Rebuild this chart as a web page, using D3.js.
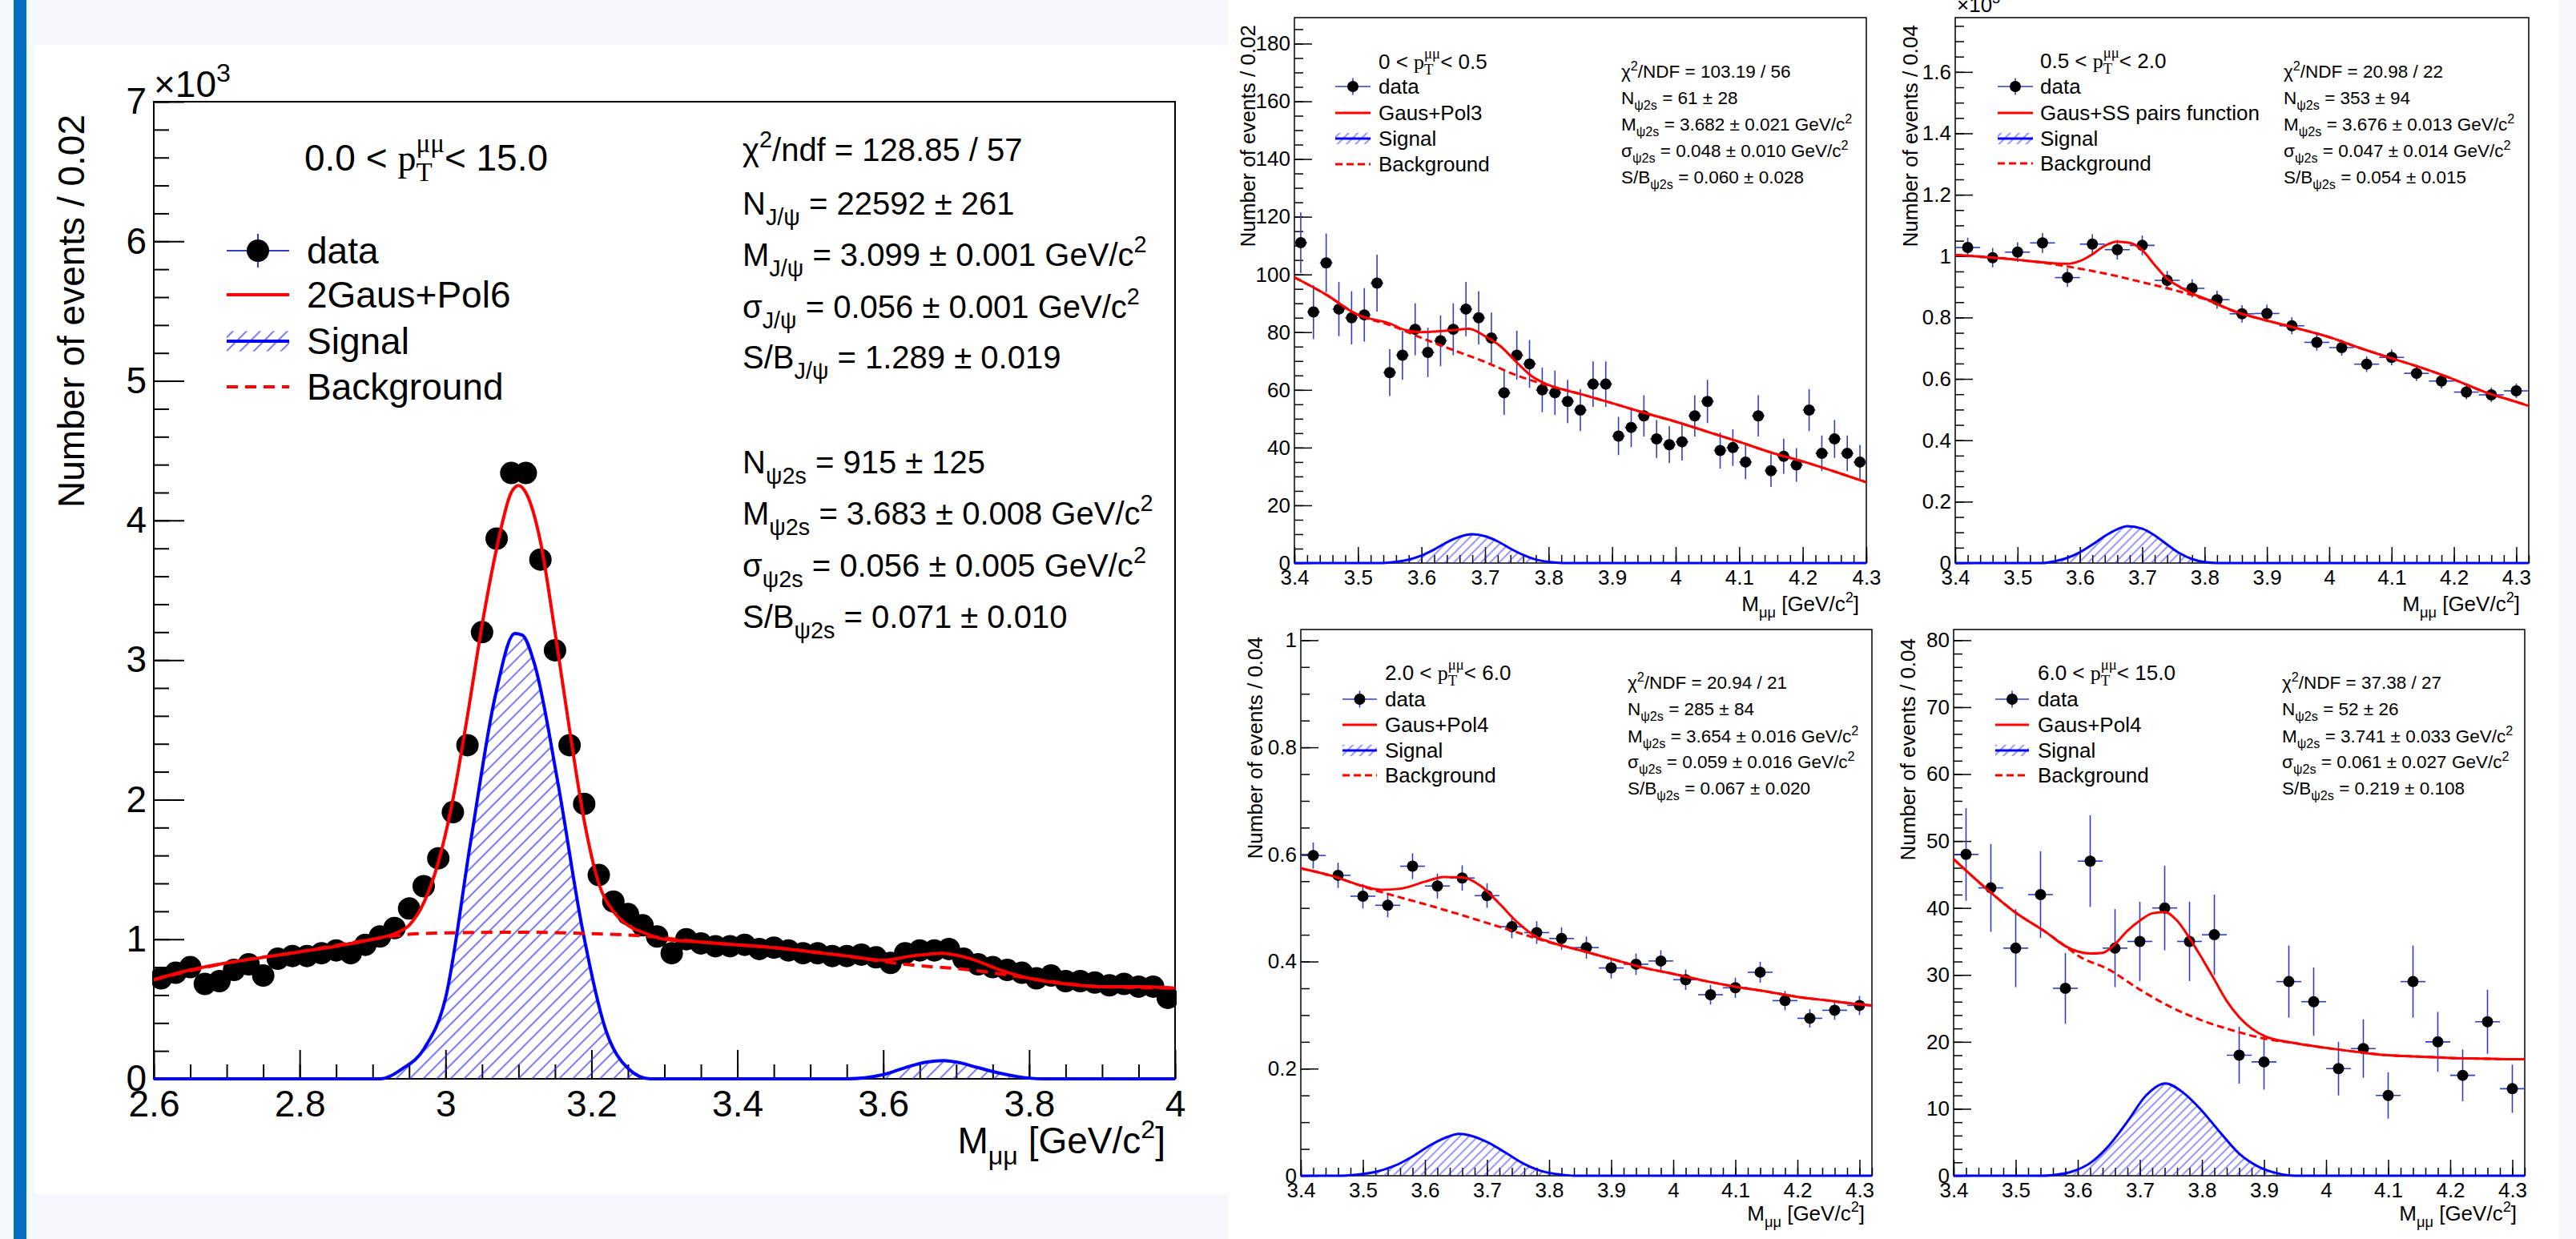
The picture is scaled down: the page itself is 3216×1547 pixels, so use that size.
<!DOCTYPE html>
<html><head><meta charset="utf-8">
<script src="https://cdn.jsdelivr.net/npm/d3@7"></script>
<style>body{margin:0;background:#f5f9fd;} svg{display:block}</style>
</head><body>
<svg id="c" width="3216" height="1547"></svg>
<script>
// ---------------- DATA ----------------
// Main plot: 0.0 < pT < 15.0, bins of 0.02 GeV/c2, counts in thousands
const mainBins = [2.61,2.63,2.65,2.67,2.69,2.71,2.73,2.75,2.77,2.79,2.81,2.83,2.85,2.87,2.89,2.91,2.93,2.95,2.97,2.99,
  3.01,3.03,3.05,3.07,3.09,3.11,3.13,3.15,3.17,3.19,3.21,3.23,3.25,3.27,3.29,3.31,3.33,3.35,3.37,3.39,
  3.41,3.43,3.45,3.47,3.49,3.51,3.53,3.55,3.57,3.59,3.61,3.63,3.65,3.67,3.69,3.71,3.73,3.75,3.77,3.79,
  3.81,3.83,3.85,3.87,3.89,3.91,3.93,3.95,3.97,3.99];
const mainCounts = [0.72,0.76,0.80,0.68,0.70,0.78,0.82,0.74,0.86,0.88,
  0.88,0.90,0.92,0.90,0.96,1.02,1.08,1.22,1.38,1.58,
  1.91,2.39,3.20,3.87,4.34,4.34,3.72,3.07,2.39,1.97,
  1.46,1.27,1.18,1.10,1.02,0.90,1.00,0.97,0.95,0.95,
  0.96,0.93,0.94,0.92,0.90,0.90,0.88,0.88,0.89,0.87,
  0.83,0.90,0.92,0.92,0.93,0.86,0.82,0.80,0.78,0.76,
  0.72,0.74,0.70,0.70,0.69,0.67,0.68,0.66,0.66,0.58];
const mainFitX = [2.60,2.65,2.70,2.75,2.80,2.85,2.90,2.93,2.95,2.97,2.99,3.01,3.03,3.05,3.07,3.09,3.10,3.11,3.13,3.15,3.17,3.19,3.21,3.23,3.25,3.27,3.30,3.35,3.40,3.45,3.50,3.55,3.60,3.64,3.68,3.72,3.76,3.80,3.85,3.90,3.95,4.00];
const mainFitY = [0.71,0.78,0.83,0.87,0.91,0.95,1.00,1.04,1.10,1.26,1.55,2.00,2.60,3.25,3.80,4.20,4.25,4.20,3.85,3.20,2.50,1.85,1.40,1.20,1.10,1.05,1.00,0.98,0.96,0.94,0.91,0.88,0.85,0.88,0.90,0.86,0.78,0.72,0.68,0.66,0.66,0.65];
const mainBgX = [2.60,2.70,2.80,2.90,2.95,3.00,3.10,3.20,3.28,3.35,3.45,3.55,3.60,3.65,3.70,3.75,3.80,3.90,4.00];
const mainBgY = [0.71,0.83,0.91,1.00,1.035,1.045,1.05,1.04,1.02,0.98,0.94,0.88,0.84,0.81,0.79,0.76,0.72,0.66,0.65];
const mainSigX = [2.60,2.91,2.94,2.971,3.00,3.035,3.068,3.095,3.105,3.122,3.154,3.187,3.219,3.251,3.28,3.55,3.60,3.63,3.66,3.683,3.70,3.73,3.76,3.80,3.82,4.00];
const mainSigY = [0,0,0.07,0.22,0.58,1.72,2.74,3.19,3.18,2.97,2.12,1.09,0.36,0.07,0,0,0.03,0.08,0.12,0.13,0.12,0.08,0.04,0.005,0,0];

// pT 0 - 0.5 (counts, bins of 0.02)
const tlBins = [3.41,3.43,3.45,3.47,3.49,3.51,3.53,3.55,3.57,3.59,3.61,3.63,3.65,3.67,3.69,3.71,3.73,3.75,3.77,3.79,
  3.81,3.83,3.85,3.87,3.89,3.91,3.93,3.95,3.97,3.99,4.01,4.03,4.05,4.07,4.09,4.11,4.13,4.15,4.17,4.19,4.21,4.23,4.25,4.27,4.29];
const tlCounts = [111,87,104,88,85,86,97,66,72,81,73,77,81,88,85,78,59,72,69,60,59,56,53,62,62,44,47,51,43,41,42,51,56,39,40,35,51,32,37,34,53,38,43,38,35];
const tlFitX = [3.40,3.45,3.50,3.55,3.575,3.60,3.625,3.65,3.675,3.70,3.725,3.75,3.775,3.80,3.85,3.90,3.95,4.00,4.05,4.10,4.15,4.20,4.25,4.30];
const tlFitY = [99,93,86,83,80.7,80,80.3,80.7,81.2,78.6,75,69.5,64.5,61.7,58.6,55.4,52.1,49,45.5,42,38.3,35.2,31.7,28];
const tlBgX = [3.40,3.45,3.50,3.55,3.60,3.65,3.70,3.75,3.80,3.85,3.90,3.95,4.00,4.05,4.10,4.15,4.20,4.25,4.30];
const tlBgY = [99,93,86,82.5,78,73.8,69.7,65,61.5,58.6,55.4,52.1,49,45.5,42,38.3,35.2,31.7,28];
const tlSigX = [3.40,3.54,3.56,3.58,3.60,3.62,3.64,3.66,3.68,3.70,3.72,3.74,3.76,3.78,3.80,3.82,4.30];
const tlSigY = [0,0,0.4,1.2,2.6,4.7,7.2,9.1,10,9.3,7.5,5.0,2.8,1.2,0.4,0,0];

// pT 0.5 - 2.0 (thousands, bins of 0.04)
const rBins = [3.42,3.46,3.50,3.54,3.58,3.62,3.66,3.70,3.74,3.78,3.82,3.86,3.90,3.94,3.98,4.02,4.06,4.10,4.14,4.18,4.22,4.26,4.30];
const trCounts = [1.028,0.995,1.013,1.043,0.930,1.039,1.021,1.035,0.921,0.895,0.858,0.812,0.813,0.773,0.719,0.702,0.648,0.670,0.618,0.593,0.557,0.548,0.561];
const trFitX = [3.40,3.45,3.50,3.55,3.58,3.60,3.62,3.64,3.66,3.68,3.70,3.72,3.74,3.76,3.78,3.80,3.85,3.90,3.95,4.00,4.05,4.10,4.15,4.20,4.25,4.30,4.32];
const trFitY = [1.004,0.997,0.988,0.978,0.975,0.984,1.006,1.034,1.047,1.043,1.019,0.971,0.926,0.900,0.878,0.862,0.819,0.790,0.764,0.736,0.700,0.667,0.635,0.598,0.557,0.525,0.512];
const trBgX = [3.40,3.45,3.50,3.55,3.60,3.65,3.70,3.75,3.80,3.85,3.90,3.95,4.00,4.05,4.10,4.15,4.20,4.25,4.30,4.32];
const trBgY = [1.004,0.997,0.988,0.976,0.959,0.939,0.915,0.890,0.860,0.818,0.790,0.764,0.736,0.700,0.667,0.635,0.598,0.557,0.525,0.512];
const trSigX = [3.40,3.54,3.56,3.58,3.60,3.62,3.64,3.66,3.676,3.70,3.72,3.74,3.76,3.78,3.80,3.82,4.32];
const trSigY = [0,0,0.006,0.017,0.035,0.06,0.088,0.11,0.12,0.112,0.09,0.06,0.032,0.013,0.003,0,0];

// pT 2.0 - 6.0 (thousands, bins of 0.04)
const blCounts = [0.598,0.561,0.522,0.505,0.578,0.541,0.556,0.523,0.465,0.454,0.443,0.426,0.388,0.395,0.401,0.366,0.338,0.351,0.380,0.327,0.294,0.309,0.318];
const blFitX = [3.40,3.45,3.50,3.53,3.56,3.60,3.63,3.66,3.69,3.72,3.75,3.78,3.80,3.85,3.90,3.95,4.00,4.05,4.10,4.15,4.20,4.25,4.30,4.32];
const blFitY = [0.574,0.560,0.541,0.534,0.536,0.549,0.558,0.557,0.541,0.508,0.472,0.446,0.437,0.421,0.405,0.389,0.377,0.364,0.353,0.344,0.334,0.327,0.320,0.318];
const blBgX = [3.40,3.45,3.50,3.55,3.60,3.65,3.70,3.75,3.80,3.85,3.90,3.95,4.00,4.05,4.10,4.15,4.20,4.25,4.30,4.32];
const blBgY = [0.574,0.560,0.540,0.523,0.507,0.490,0.472,0.454,0.436,0.421,0.405,0.389,0.377,0.364,0.353,0.344,0.334,0.327,0.320,0.318];
const blSigX = [3.40,3.46,3.49,3.52,3.55,3.58,3.61,3.64,3.654,3.67,3.70,3.73,3.76,3.79,3.82,3.84,4.32];
const blSigY = [0,0,0.002,0.007,0.018,0.036,0.058,0.074,0.078,0.076,0.063,0.043,0.022,0.008,0.002,0,0];

// pT 6.0 - 15.0 (counts, bins of 0.04)
const brCounts = [48,43,34,42,28,47,34,35,40,35,36,18,17,29,26,16,19,12,29,20,15,23,13];
const brFitX = [3.40,3.45,3.50,3.55,3.58,3.60,3.62,3.64,3.66,3.68,3.70,3.72,3.74,3.76,3.78,3.80,3.82,3.84,3.86,3.88,3.90,3.95,4.00,4.05,4.10,4.15,4.20,4.25,4.30,4.32];
const brFitY = [47.3,43.1,39.3,36.3,34.3,33.5,33.2,33.3,34.6,36.6,38.1,39.2,39.4,38.1,35.5,32.5,29.3,26.1,23.7,22.0,20.9,19.8,19.1,18.5,18.0,17.8,17.6,17.5,17.4,17.4];
const brBgX = [3.40,3.45,3.50,3.55,3.58,3.60,3.65,3.70,3.75,3.80,3.85,3.90,3.95,4.00,4.05,4.10,4.15,4.20,4.25,4.30,4.32];
const brBgY = [47.3,43.1,39.3,36.3,34.3,32.9,30.8,27.8,25.2,23.2,21.7,20.5,19.8,19.1,18.5,18.0,17.8,17.6,17.5,17.4,17.4];
const brSigX = [3.40,3.54,3.56,3.59,3.62,3.65,3.68,3.71,3.741,3.77,3.80,3.83,3.86,3.89,3.92,3.95,4.32];
const brSigY = [0,0,0.1,0.6,1.9,4.5,8.1,12.0,13.8,12.4,9.7,6.4,3.3,1.4,0.4,0,0];

// Tick labels
const mainXTicks = [2.6,2.8,3,3.2,3.4,3.6,3.8,4];
const mainYTicks = [0,1,2,3,4,5,6,7];
const rXTicks = [3.4,3.5,3.6,3.7,3.8,3.9,4,4.1,4.2,4.3];
const tlYTicks = [0,20,40,60,80,100,120,140,160,180];
const trYTicks = [0,0.2,0.4,0.6,0.8,1,1.2,1.4,1.6];
const blYTicks = [0,0.2,0.4,0.6,0.8,1];
const brYTicks = [0,10,20,30,40,50,60,70,80];

// Texts
const legendLabels = {
  main:['data','2Gaus+Pol6','Signal','Background'],
  tl:['data','Gaus+Pol3','Signal','Background'],
  tr:['data','Gaus+SS pairs function','Signal','Background'],
  bl:['data','Gaus+Pol4','Signal','Background'],
  br:['data','Gaus+Pol4','Signal','Background']};
const statsText = {
  main:['χ^{2}/ndf = 128.85 / 57','N_{J/ψ} = 22592 ± 261','M_{J/ψ} = 3.099 ± 0.001 GeV/c^{2}','σ_{J/ψ} = 0.056 ± 0.001 GeV/c^{2}','S/B_{J/ψ} = 1.289 ± 0.019',
        'N_{ψ2s} = 915 ± 125','M_{ψ2s} = 3.683 ± 0.008 GeV/c^{2}','σ_{ψ2s} = 0.056 ± 0.005 GeV/c^{2}','S/B_{ψ2s} = 0.071 ± 0.010'],
  tl:['χ^{2}/NDF = 103.19 / 56','N_{ψ2s} = 61 ± 28','M_{ψ2s} = 3.682 ± 0.021 GeV/c^{2}','σ_{ψ2s} = 0.048 ± 0.010 GeV/c^{2}','S/B_{ψ2s} = 0.060 ± 0.028'],
  tr:['χ^{2}/NDF = 20.98 / 22','N_{ψ2s} = 353 ± 94','M_{ψ2s} = 3.676 ± 0.013 GeV/c^{2}','σ_{ψ2s} = 0.047 ± 0.014 GeV/c^{2}','S/B_{ψ2s} = 0.054 ± 0.015'],
  bl:['χ^{2}/NDF = 20.94 / 21','N_{ψ2s} = 285 ± 84','M_{ψ2s} = 3.654 ± 0.016 GeV/c^{2}','σ_{ψ2s} = 0.059 ± 0.016 GeV/c^{2}','S/B_{ψ2s} = 0.067 ± 0.020'],
  br:['χ^{2}/NDF = 37.38 / 27','N_{ψ2s} = 52 ± 26','M_{ψ2s} = 3.741 ± 0.033 GeV/c^{2}','σ_{ψ2s} = 0.061 ± 0.027 GeV/c^{2}','S/B_{ψ2s} = 0.219 ± 0.108']};
const ptRanges = {main:['0.0','15.0'], tl:['0','0.5'], tr:['0.5','2.0'], bl:['2.0','6.0'], br:['6.0','15.0']};
const yTitles = {main:'Number of events / 0.02', tl:'Number of events / 0.02', tr:'Number of events / 0.04', bl:'Number of events / 0.04', br:'Number of events / 0.04'};
const xTitle = 'M_{μμ} [GeV/c^{2}]';

// ---------------- DRAWING ----------------
const SANS = "'Liberation Sans', Arial, Helvetica, sans-serif";
const SERIF = "'Liberation Serif', 'Times New Roman', serif";
const svg = d3.select('#c');
const defs = svg.append('defs');

svg.append('rect').attr('width',3216).attr('height',1547).attr('fill','#f5f9fd');
svg.append('rect').attr('x',43).attr('y',56).attr('width',1497).attr('height',1435).attr('fill','#ffffff');
svg.append('rect').attr('x',1533).attr('y',0).attr('width',1662).attr('height',1547).attr('fill','#ffffff');
svg.append('rect').attr('x',17).attr('y',0).attr('width',16).attr('height',1547).attr('fill','#0070c0');

function parse(str){
  const parts=[]; const re=/([_^])\{([^}]*)\}/g; let last=0, m;
  while((m=re.exec(str))){ if(m.index>last) parts.push({t:str.slice(last,m.index)});
    parts.push({t:m[2], k:m[1]==='_'?'sub':'sup'}); last=re.lastIndex; }
  if(last<str.length) parts.push({t:str.slice(last)});
  return parts;
}
function addRich(sel, x, y, parts, size, anchor, opt){
  opt = opt||{};
  const t = sel.append('text').attr('x',x).attr('y',y).attr('font-size',size)
    .attr('font-family',SANS).attr('fill','#000').attr('text-anchor',anchor||'start').style('white-space','pre');
  const SUP=-(opt.sup||0.42)*size, SUB=(opt.sub||0.3)*size, SS=(opt.ss||0.7)*size;
  let cur=0, pend=0;
  parts.forEach(p=>{
    if(p.stack){
      const a=t.append('tspan').attr('dy',SUP-cur).attr('font-size',SS).attr('font-family',p.f||SANS).text(p.stack[0]);
      if(pend){a.attr('dx',pend);pend=0;}
      const wa=a.node().getComputedTextLength();
      const b=t.append('tspan').attr('dy',SUB-SUP).attr('dx',-wa).attr('font-size',SS).attr('font-family',p.f||SANS).text(p.stack[1]);
      const wb=b.node().getComputedTextLength();
      pend=Math.max(0,wa-wb); cur=SUB; return;
    }
    const target = p.k==='sup'?SUP:(p.k==='sub'?SUB:0);
    const s=t.append('tspan').attr('dy',target-cur).attr('font-size',p.k?SS:size).text(p.t);
    if(p.f) s.attr('font-family',p.f);
    if(pend){s.attr('dx',pend);pend=0;}
    cur=target;
  });
  return t;
}
function minorVals(d,step){
  return d3.range(Math.ceil(d[0]/step-1e-9), Math.floor(d[1]/step+1e-9)+1).map(i=>+(i*step).toFixed(6));
}

function drawPanel(c){
  const [fx0,fy0,fx1,fy1]=c.frame;
  const x=d3.scaleLinear().domain(c.xd).range([fx0,fx1]);
  const y=d3.scaleLinear().domain(c.yd).range([fy1,fy0]);
  const g=svg.append('g');
  const clipId='clip_'+c.id, patId='hatch_'+c.id;
  defs.append('clipPath').attr('id',clipId).append('rect')
    .attr('x',fx0-2).attr('y',fy0).attr('width',fx1-fx0+4).attr('height',fy1-fy0+c.lw/2+1);
  const pat=defs.append('pattern').attr('id',patId).attr('patternUnits','userSpaceOnUse')
    .attr('width',c.hatch).attr('height',c.hatch).attr('patternTransform','rotate(45)');
  pat.append('line').attr('x1',c.hatch/2).attr('y1',0).attr('x2',c.hatch/2).attr('y2',c.hatch)
    .attr('stroke','#3030ff').attr('stroke-width',c.hw);

  // axes (ticks inside)
  const style=(sel)=>{ sel.select('.domain').remove();
    sel.attr('font-size',c.fs).attr('font-family',SANS);
    sel.selectAll('line').attr('stroke','#000').attr('stroke-width',c.sw);
    sel.selectAll('text').attr('fill','#000'); };
  g.append('g').attr('transform',`translate(0,${fy1})`)
    .call(d3.axisBottom(x).tickValues(minorVals(c.xd,c.xMinor)).tickSize(-c.len[1]).tickFormat('')).call(style);
  g.append('g').attr('transform',`translate(0,${fy1})`)
    .call(d3.axisBottom(x).tickValues(c.xTicks).tickSize(-c.len[0]).tickPadding(c.xPad).tickFormat(d=>String(d))).call(style);
  g.append('g').attr('transform',`translate(${fx0},0)`)
    .call(d3.axisLeft(y).tickValues(minorVals(c.yd,c.yMinor)).tickSize(-c.len[3]).tickFormat('')).call(style);
  g.append('g').attr('transform',`translate(${fx0},0)`)
    .call(d3.axisLeft(y).tickValues(c.yTicks).tickSize(-c.len[2]).tickPadding(c.yPad).tickFormat(d=>String(d))).call(style);
  g.append('rect').attr('x',fx0).attr('y',fy0).attr('width',fx1-fx0).attr('height',fy1-fy0)
    .attr('fill','none').attr('stroke','#000').attr('stroke-width',c.sw);

  // data points with Poisson error bars
  const pts=c.bins.map((b,i)=>({b, v:c.counts[i], e:Math.sqrt(c.counts[i]*c.unit)/c.unit}));
  const dg=g.append('g').attr('clip-path',`url(#${clipId})`);
  dg.selectAll('line.ev').data(pts).join('line').attr('class','ev')
    .attr('x1',d=>x(d.b)).attr('x2',d=>x(d.b)).attr('y1',d=>y(d.v-d.e)).attr('y2',d=>y(d.v+d.e))
    .attr('stroke','#2f3fbf').attr('stroke-width',c.ew);
  dg.selectAll('line.eh').data(pts).join('line').attr('class','eh')
    .attr('x1',d=>x(d.b-c.half)).attr('x2',d=>x(d.b+c.half)).attr('y1',d=>y(d.v)).attr('y2',d=>y(d.v))
    .attr('stroke','#2f3fbf').attr('stroke-width',c.ew);
  dg.selectAll('circle').data(pts).join('circle').attr('cx',d=>x(d.b)).attr('cy',d=>y(d.v)).attr('r',c.r).attr('fill','#000');

  // curves
  const pairs=(X,Y)=>X.map((v,i)=>[v,Y[i]]);
  const line=d3.line().x(d=>x(d[0])).y(d=>y(d[1])).curve(d3.curveMonotoneX);
  const area=d3.area().x(d=>x(d[0])).y0(y(0)).y1(d=>y(d[1])).curve(d3.curveMonotoneX);
  const cg=g.append('g').attr('clip-path',`url(#${clipId})`).attr('fill','none');
  const sig=pairs(c.sigX,c.sigY);
  cg.append('path').attr('d',area(sig)).attr('fill',`url(#${patId})`);
  cg.append('path').attr('d',line(sig)).attr('stroke','#0000ff').attr('stroke-width',c.lw);
  cg.append('path').attr('d',line(pairs(c.bgX,c.bgY))).attr('stroke','#ff0000').attr('stroke-width',c.lw).attr('stroke-dasharray',c.dash);
  cg.append('path').attr('d',line(pairs(c.fitX,c.fitY))).attr('stroke','#ff0000').attr('stroke-width',c.lw);

  // axis titles
  addRich(g, c.xt[0], c.xt[1], parse(xTitle), c.fs, 'end', {sub:0.3});
  addRich(g, 0, 0, parse(yTitles[c.id]), c.fs, 'end').attr('transform',`translate(${c.yt[0]},${c.yt[1]}) rotate(-90)`);
  if(c.expo) addRich(g, c.expo[0], c.expo[1], [{t:'×10'},{t:'3',k:'sup'}], c.fs);

  // pT title
  const pr=ptRanges[c.id];
  addRich(g, c.title[0], c.title[1], [{t:pr[0]+' < '},{t:'p',f:SERIF},{stack:['μμ','T'],f:SERIF},{t:'< '+pr[1]}], c.fs, 'start', {sup:0.5, sub:0.28, ss:0.72});

  // legend
  const L=c.leg; const [lx0,lx1]=L.sym; const mid=(lx0+lx1)/2;
  legendLabels[c.id].forEach((lab,i)=>{
    const cy=L.rows[i];
    addRich(g, L.tx, cy+0.35*c.fs, [{t:lab}], c.fs);
    if(i===0){
      g.append('line').attr('x1',lx0).attr('x2',lx1).attr('y1',cy).attr('y2',cy).attr('stroke','#2f3fbf').attr('stroke-width',c.ew);
      g.append('line').attr('x1',mid).attr('x2',mid).attr('y1',cy-c.r*1.5).attr('y2',cy+c.r*1.5).attr('stroke','#2f3fbf').attr('stroke-width',c.ew);
      g.append('circle').attr('cx',mid).attr('cy',cy).attr('r',c.r).attr('fill','#000');
    } else if(i===1){
      g.append('line').attr('x1',lx0).attr('x2',lx1).attr('y1',cy).attr('y2',cy).attr('stroke','#ff0000').attr('stroke-width',c.lw);
    } else if(i===2){
      const h=c.fs*0.55;
      g.append('rect').attr('x',lx0).attr('y',cy-h/2).attr('width',lx1-lx0).attr('height',h).attr('fill',`url(#${patId})`);
      g.append('line').attr('x1',lx0).attr('x2',lx1).attr('y1',cy).attr('y2',cy).attr('stroke','#0000ff').attr('stroke-width',c.lw);
    } else {
      g.append('line').attr('x1',lx0).attr('x2',lx1).attr('y1',cy).attr('y2',cy).attr('stroke','#ff0000').attr('stroke-width',c.lw).attr('stroke-dasharray',c.dash);
    }
  });

  // stats
  statsText[c.id].forEach((s,i)=>{ addRich(g, c.st.x, c.st.ys[i], parse(s), c.st.fs, 'start', {sub:0.32, ss:0.72}); });
}

const rightCommon = {xTicks:rXTicks, xMinor:0.02, len:[20,10,22,11], fs:26, xPad:8.5, yPad:5, sw:1.5, r:7, ew:1.6, hatch:8, hw:1, lw:3, dash:'9,5'};

drawPanel({id:'main', frame:[192,127,1467,1347], xd:[2.6,4.0], yd:[0,7], xTicks:mainXTicks, xMinor:0.05, yTicks:mainYTicks, yMinor:0.2,
  len:[36,18,38,19], fs:46, xPad:14, yPad:9, sw:2, r:14, ew:2, hatch:12, hw:1.3, lw:4, dash:'14,9', unit:1000, half:0.01,
  bins:mainBins, counts:mainCounts, fitX:mainFitX, fitY:mainFitY, bgX:mainBgX, bgY:mainBgY, sigX:mainSigX, sigY:mainSigY,
  xt:[1455,1440], yt:[105,143], expo:[192,121], title:[380,213],
  leg:{sym:[283,361], tx:383, rows:[313,368,426,483]},
  st:{x:927, fs:40, ys:[201,268,332,397,460,591,655,720,784]}});

drawPanel(Object.assign({}, rightCommon, {id:'tl', frame:[1616,22,2330,703], xd:[3.4,4.3], yd:[0,189], yTicks:tlYTicks, yMinor:5, unit:1, half:0.01,
  bins:tlBins, counts:tlCounts, fitX:tlFitX, fitY:tlFitY, bgX:tlBgX, bgY:tlBgY, sigX:tlSigX, sigY:tlSigY,
  xt:[2321,763], yt:[1567,31], title:[1721,86],
  leg:{sym:[1667,1711], tx:1721, rows:[108,141,173,205]},
  st:{x:2024, fs:22.5, ys:[97,130,163,196,229]}}));

drawPanel(Object.assign({}, rightCommon, {id:'tr', frame:[2441,22,3157,703], xd:[3.4,4.32], yd:[0,1.777], yTicks:trYTicks, yMinor:0.05, unit:1000, half:0.02,
  bins:rBins, counts:trCounts, fitX:trFitX, fitY:trFitY, bgX:trBgX, bgY:trBgY, sigX:trSigX, sigY:trSigY,
  xt:[3146,763], yt:[2394,31], expo:[2443,15], title:[2547,85],
  leg:{sym:[2494,2538], tx:2547, rows:[108,141,173,204]},
  st:{x:2851, fs:22.5, ys:[97,130,163,196,229]}}));

drawPanel(Object.assign({}, rightCommon, {id:'bl', frame:[1624,786,2337,1468], xd:[3.4,4.32], yd:[0,1.02], yTicks:blYTicks, yMinor:0.05, unit:1000, half:0.02,
  bins:rBins, counts:blCounts, fitX:blFitX, fitY:blFitY, bgX:blBgX, bgY:blBgY, sigX:blSigX, sigY:blSigY,
  xt:[2328,1524], yt:[1576,795], title:[1729,849],
  leg:{sym:[1676,1719], tx:1729, rows:[873,905,937,968]},
  st:{x:2032, fs:22.5, ys:[860,893,927,959,992]}}));

drawPanel(Object.assign({}, rightCommon, {id:'br', frame:[2439,786,3152,1468], xd:[3.4,4.32], yd:[0,81.6], yTicks:brYTicks, yMinor:2, unit:1, half:0.02,
  bins:rBins, counts:brCounts, fitX:brFitX, fitY:brFitY, bgX:brBgX, bgY:brBgY, sigX:brSigX, sigY:brSigY,
  xt:[3142,1524], yt:[2391,797], title:[2544,849],
  leg:{sym:[2491,2533], tx:2544, rows:[873,905,937,968]},
  st:{x:2849, fs:22.5, ys:[860,893,927,959,992]}}));
</script>
</body></html>
